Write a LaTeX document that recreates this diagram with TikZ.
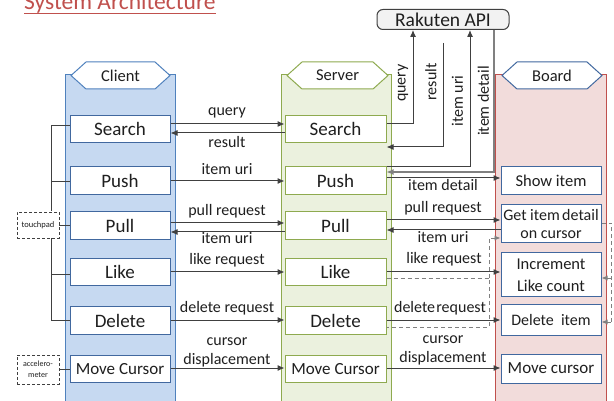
\documentclass[tikz,border=0pt]{standalone}
\usepackage{fontspec}
\setmainfont{Carlito}
\usetikzlibrary{arrows.meta}
\definecolor{cfill}{HTML}{C6D9F1}
\definecolor{cline}{HTML}{4F81BD}
\definecolor{sfill}{HTML}{EBF1DE}
\definecolor{sline}{HTML}{8EAA4F}
\definecolor{bfill}{HTML}{F2DCDB}
\definecolor{bline}{HTML}{C0504D}
\definecolor{boxblue}{HTML}{41689F}
\definecolor{arrc}{HTML}{404040}
\definecolor{dgray}{HTML}{808080}
\definecolor{titlered}{HTML}{C0504D}
\definecolor{apifill}{HTML}{F2F2F2}
\definecolor{txt}{HTML}{1F1F1F}
\tikzset{
  cbox/.style={draw=boxblue, fill=white, line width=1pt, minimum width=100pt, minimum height=27.5pt, inner sep=0pt, font=\fontsize{19}{20}\selectfont, text=txt},
  sbox/.style={cbox, draw=sline, minimum width=101pt},
  bbox/.style={cbox, align=center},
  hdr/.style={inner sep=0pt, font=\fontsize{16.5}{18}\selectfont, text=txt},
  arr/.style={draw=arrc, line width=1pt, -{Latex[length=7pt,width=6pt]}},
  garr/.style={draw=dgray, line width=1.2pt, -{Latex[length=7pt,width=6pt]}},
  lbl/.style={font=\fontsize{16}{17}\selectfont, inner sep=0pt, text=txt},
  vlbl/.style={lbl, rotate=90},
  dsh/.style={draw=dgray, dashed, dash pattern=on 4pt off 3pt, line width=0.9pt},
  dbox/.style={draw=arrc, dashed, dash pattern=on 3pt off 2pt, fill=white, line width=0.8pt, minimum width=42pt, inner sep=0pt, text=txt},
  brk/.style={draw=arrc, line width=0.9pt},
}
\begin{document}
\begin{tikzpicture}[x=1pt,y=-1pt]
\useasboundingbox (0,0) rectangle (614,401);
\clip (0,0) rectangle (614,401);
\fill[white] (0,0) rectangle (614,401);

% title
\node[anchor=base west, inner sep=0pt, text=titlered, font=\fontsize{23.5}{24}\selectfont] (title) at (24,10) {System Architecture};
\draw[titlered, line width=1pt] ([yshift=-3.4pt]title.base west) -- ([yshift=-3.4pt]title.base east);

% columns
\draw[cline, fill=cfill, line width=1pt] (65,75) rectangle (175,410);
\draw[cline, fill=white, line width=1pt] (71,75.5) -- (86,62) -- (155,62) -- (170,75.5) -- (155,89) -- (86,89) -- cycle;
\node[hdr] (hc) at (120.5,75.5) {Client};

\draw[sline, fill=sfill, line width=1pt] (281,75) rectangle (391,410);
\draw[sline, fill=white, line width=1pt] (287,75.5) -- (302,62) -- (373,62) -- (388,75.5) -- (373,89) -- (302,89) -- cycle;
\node[hdr] (hs) at (337.5,75.5) {Server};

\draw[bline, fill=bfill, line width=1pt] (495,75) rectangle (606,410);
\draw[boxblue, fill=white, line width=1pt] (502,75.5) -- (517,62) -- (587,62) -- (602,75.5) -- (587,89) -- (517,89) -- cycle;
\node[hdr] (hb) at (552,75.5) {Board};

% API
\node[draw=arrc, fill=apifill, line width=1pt, rounded corners=6pt, minimum width=132pt, minimum height=20pt, inner sep=0pt, font=\fontsize{19.5}{20}\selectfont, text=txt] (api) at (443,19.5) {Rakuten API};

% client boxes
\node[cbox] (c1) at (120,129) {Search};
\node[cbox] (c2) at (120,180.5) {Push};
\node[cbox] (c3) at (120,225.5) {Pull};
\node[cbox] (c4) at (120,272) {Like};
\node[cbox] (c5) at (120,320.5) {Delete};
\node[cbox, font=\fontsize{17}{18}\selectfont] (c6) at (120,369) {Move Cursor};

% server boxes
\node[sbox] (s1) at (335.5,129) {Search};
\node[sbox] (s2) at (335.5,180.5) {Push};
\node[sbox] (s3) at (335.5,225.5) {Pull};
\node[sbox] (s4) at (335.5,272) {Like};
\node[sbox] (s5) at (335.5,320.5) {Delete};
\node[sbox, font=\fontsize{17}{18}\selectfont] (s6) at (335.5,369) {Move Cursor};

% board boxes
\node[bbox, minimum height=28pt, font=\fontsize{16.5}{18}\selectfont] (b1) at (551,181) {Show item};
\node[bbox, minimum height=38pt, font=\fontsize{16}{18}\selectfont] (b2) at (551,224) {Get item\hspace{0.15em}detail\\on cursor};
\node[bbox, minimum height=44pt, font=\fontsize{16.5}{22}\selectfont] (b3) at (551,275) {Increment\\Like count};
\node[bbox, minimum height=30pt, font=\fontsize{16}{18}\selectfont] (b4) at (551,320) {Delete\ \ item};
\node[bbox, minimum height=29pt, font=\fontsize{17}{18}\selectfont] (b5) at (551,368.5) {Move cursor};

% touch pad / accelerometer
\draw[brk] (c1.west|-0,125) -| (51,0|-c3.north);
\draw[brk] (c2.west|-0,181) -- (51,181);
\draw[brk] (51,232) |- (c5.west|-0,320);
\draw[brk] (51,274) -- (c4.west|-0,274);
\node[dbox, minimum height=26pt, font=\fontsize{8.5}{9}\selectfont] (tp) at (38,225) {touchpad};
\draw[brk] (tp.east) -- (c3.west|-tp.east);
\node[dbox, minimum height=29pt, align=center, font=\fontsize{8}{11}\selectfont] (ac) at (38,369.5) {accelero-\\meter};
\draw[brk] (ac.east) -- (c6.west|-ac.east);

% client -> server
\draw[arr] (c1.east|-0,124) -- (s1.west|-0,124);
\draw[arr] (s1.west|-0,133) -- (c1.east|-0,133);
\draw[arr] (c2.east|-0,181) -- (s2.west|-0,181);
\draw[arr] (c3.east|-0,223) -- (s3.west|-0,223);
\draw[arr] (s3.west|-0,232) -- (c3.east|-0,232);
\draw[arr] (c4.east|-0,272) -- (s4.west|-0,272);
\draw[arr] (c5.east|-0,320) -- (s5.west|-0,320);
\draw[arr] (c6.east|-0,368) -- (s6.west|-0,368);

\node[lbl] (q1) at (227,113) {query};
\node[lbl] (r1) at (227,142) {result};
\node[lbl] (u1) at (227,169.5) {item uri};
\node[lbl] (p1) at (227,211) {pull request};
\node[lbl] (u2) at (227,238.5) {item uri};
\node[lbl] (k1) at (227,260.5) {like request};
\node[lbl] (d1) at (227,308.5) {delete request};
\node[lbl] (m1) at (227,342) {cursor};
\node[lbl] (m2) at (227,360.5) {displacement};

% server <-> API
\coordinate (rs) at (443,43);
\draw[arr] (s1.east|-0,124) -| (413,0|-api.south);
\draw[arr] (rs) |- (s1.east|-0,147);
\draw[arr] (s2.north east) -| (470,0|-api.south);
\draw[garr] (494,0|-api.south) |- (s2.east|-0,172);

\node[vlbl] (q2) at (403,83) {query};
\node[vlbl] (r2) at (431,82) {result};
\node[vlbl] (u3) at (457.5,101) {item uri};
\node[vlbl] (d2) at (483.5,101) {item detail};

% server -> board
\draw[arr] (s2.east|-0,178) -- (b1.west|-0,178);
\draw[arr] (s3.east|-0,220) -- (b2.west|-0,220);
\draw[arr] (b2.west|-0,230) -- (s3.east|-0,230);
\draw[arr] (s4.east|-0,272) -- (b3.west|-0,272);
\draw[arr] (s5.east|-0,320) -- (b4.west|-0,320);
\draw[arr] (s6.east|-0,368) -- (b5.west|-0,368);

\node[lbl] (e1) at (443,185) {item detail};
\node[lbl] (p2) at (443,208) {pull request};
\node[lbl] (u4) at (443,237.5) {item uri};
\node[lbl] (k2) at (444,259.5) {like request};
\node[lbl] (d3) at (440,308) {delete\kern1.2pt{}request};
\node[lbl] (m3) at (443,339.5) {cursor};
\node[lbl] (m4) at (443,358) {displacement};

% dashed
\draw[dsh] (s4.east|-0,278) -- (489,278) -- (489,327) -- (s5.east|-0,327);
\draw[dsh, -{Latex[length=6pt,width=5pt]}] (489,278) |- (b2.west|-0,238);
\draw[dsh] (b2.east|-0,223) -- (611,223) -- (611,322);
\draw[dsh, -{Latex[length=6pt,width=5pt]}] (611,278) -- (b3.east|-0,278);
\draw[dsh, -{Latex[length=6pt,width=5pt]}] (611,322) -- (b4.east|-0,322);
\end{tikzpicture}
\end{document}
